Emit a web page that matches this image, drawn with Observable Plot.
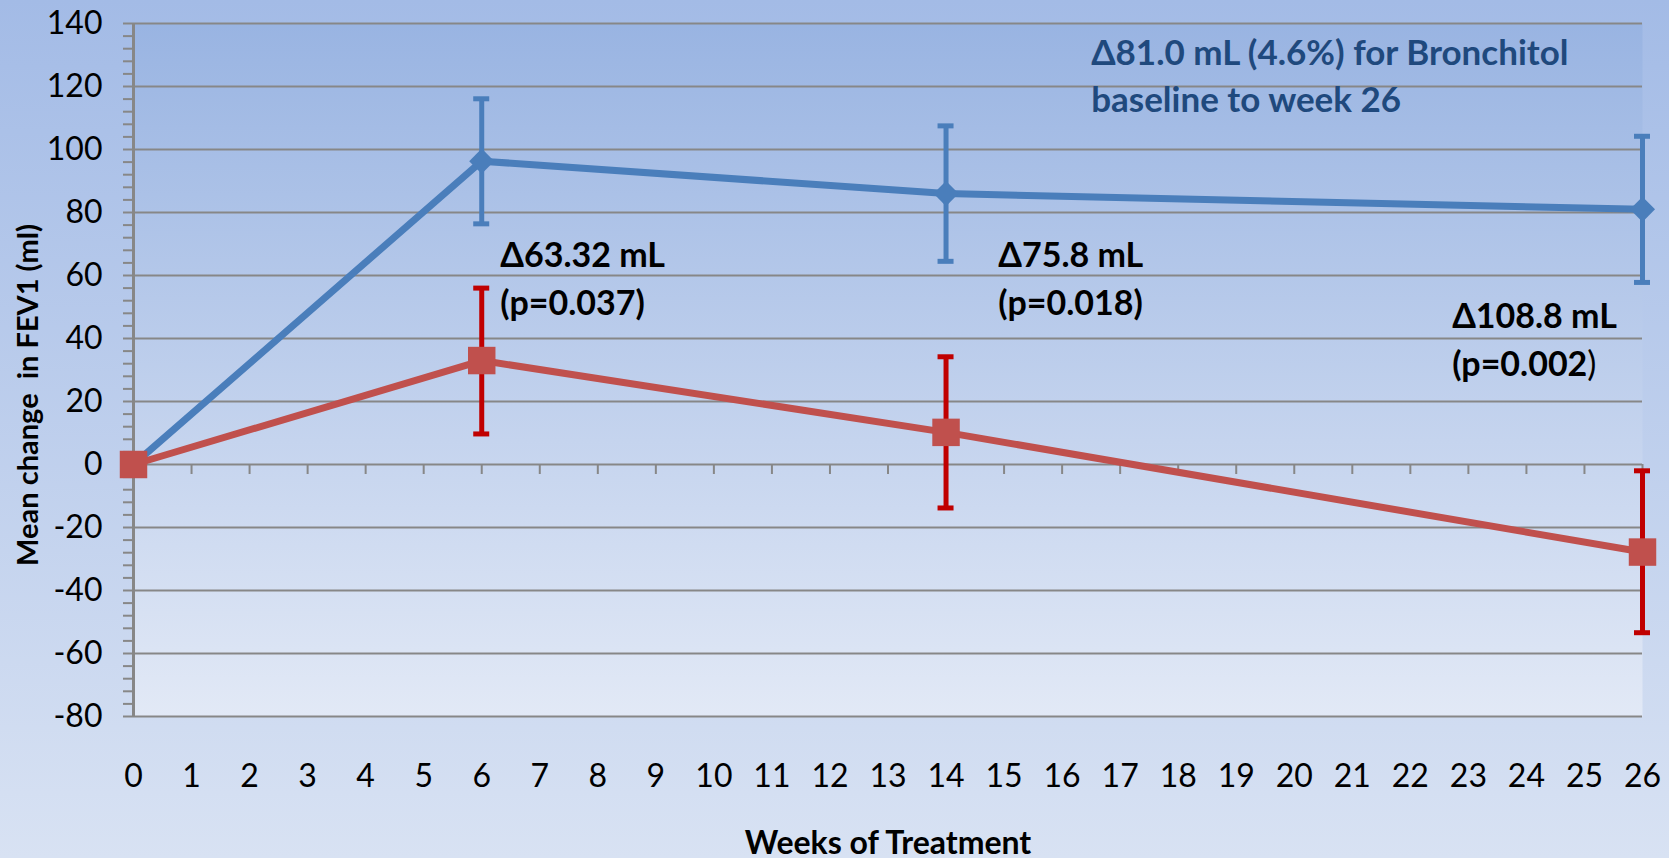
<!DOCTYPE html>
<html><head><meta charset="utf-8">
<script src="https://cdn.jsdelivr.net/npm/d3@7"></script>
<script src="https://cdn.jsdelivr.net/npm/@observablehq/plot@0.6"></script>
<style>
html,body{margin:0;padding:0;}
body{width:1669px;height:858px;overflow:hidden;background:linear-gradient(to bottom,#a3bbe6 0%,#d8e2f3 100%);}
#chart svg{display:block;}
#chart svg text{white-space:pre;}
</style></head><body><div id="chart"></div>
<script>
// ---- data ----
const weeks = [0, 6, 14, 26];
const bronchitol = [0, 96.3, 86.0, 81.0];
const bronchitolLow = [null, 76.4, 64.5, 57.8];
const bronchitolHigh = [null, 116.1, 107.5, 104.2];
const control = [0, 33.0, 10.2, -27.8];
const controlLow = [null, 9.7, -13.8, -53.4];
const controlHigh = [null, 56.0, 34.2, -2.0];
const xTicks = d3.range(0, 27);
const yTicks = d3.range(-80, 141, 20);
const yMinorTicks = d3.range(-80, 141, 4).filter(v => v % 20 !== 0);
const annotationTexts = [
  "Δ81.0 mL (4.6%) for Bronchitol\nbaseline to week 26",
  "Δ63.32 mL\n(p=0.037)",
  "Δ75.8 mL\n(p=0.018)",
  "Δ108.8 mL\n(p=0.002)"
];
const annotationWeeks = [16.5, 6.32, 14.9, 22.72];
const annotationValues = [137.3, 73.4, 73.4, 54.0];
const yLabel = "Mean change  in FEV1 (ml)";
const xLabel = "Weeks of Treatment";

// ---- tables ----
const bRows = weeks.map((w, i) => ({week: w, value: bronchitol[i], lo: bronchitolLow[i], hi: bronchitolHigh[i]}));
const cRows = weeks.map((w, i) => ({week: w, value: control[i], lo: controlLow[i], hi: controlHigh[i]}));
const bErr = bRows.filter(d => d.lo != null);
const cErr = cRows.filter(d => d.lo != null);
const notes = annotationTexts.map((t, i) => ({text: t, week: annotationWeeks[i], value: annotationValues[i]}));

const grid = "#878787";
const blue = "#4a7ebb";
const red = "#c0504d";
const redErr = "#c00000";

const errorBars = (rows, color) => [
  Plot.ruleX(rows, {x: "week", y1: "lo", y2: "hi", stroke: color, strokeWidth: 5}),
  Plot.ruleY(rows, {x1: "week", x2: "week", y: "lo", insetLeft: -8, insetRight: -8, stroke: color, strokeWidth: 5}),
  Plot.ruleY(rows, {x1: "week", x2: "week", y: "hi", insetLeft: -8, insetRight: -8, stroke: color, strokeWidth: 5})
];

const chart = Plot.plot({
  width: 1669, height: 858,
  marginLeft: 133, marginRight: 27, marginTop: 23, marginBottom: 142,
  style: {background: "transparent", fontFamily: "Lato", overflow: "visible", color: "#000"},
  x: {domain: [0, 26]},
  y: {domain: [-80, 140]},
  marks: [
    Plot.frame({fill: "url(#plotBg)", stroke: "none"}),
    Plot.ruleY(yTicks, {insetLeft: -10, stroke: grid, strokeWidth: 2}),
    Plot.ruleY(yMinorTicks, {x1: 0, x2: 0, insetLeft: -10, stroke: grid, strokeWidth: 2}),
    Plot.ruleX(xTicks, {x: d => d, y1: 0, y2: 0, insetBottom: -10, stroke: grid, strokeWidth: 2}),
    Plot.ruleX([0], {stroke: grid, strokeWidth: 3}),
    Plot.axisY({ticks: yTicks, tickSize: 0, tickPadding: 31, fontSize: 32, label: null, tickFormat: d => String(d)}),
    Plot.axisX({ticks: xTicks, tickSize: 0, tickPadding: 48, fontSize: 32, label: null, tickFormat: d => String(d)}),
    ...errorBars(bErr, blue),
    ...errorBars(cErr, redErr),
    Plot.line(bRows, {x: "week", y: "value", stroke: blue, strokeWidth: 7}),
    Plot.line(cRows, {x: "week", y: "value", stroke: red, strokeWidth: 7}),
    Plot.dot(bRows, {x: "week", y: "value", symbol: "diamond2", r: 11.3, fill: blue, stroke: "none"}),
    Plot.dot(cRows, {x: "week", y: "value", symbol: "square", r: 15.5, fill: red, stroke: "none"}),
    Plot.text(notes.slice(0, 1), {x: "week", y: "value", text: "text", textAnchor: "start", lineAnchor: "top", lineHeight: 1.343, fontSize: 35, fontWeight: "bold", fill: "#1f497d"}),
    Plot.text(notes.slice(1), {x: "week", y: "value", text: "text", textAnchor: "start", lineAnchor: "top", lineHeight: 1.4, fontSize: 34, fontWeight: "bold", fill: "#000"}),
    Plot.text([yLabel], {text: d => d, frameAnchor: "left", rotate: -90, dx: -105, dy: 25, fontSize: 29, fontWeight: "bold", textAnchor: "middle", lineAnchor: "middle", fill: "#000"}),
    Plot.text([xLabel], {text: d => d, frameAnchor: "bottom", dy: 115, fontSize: 32, fontWeight: "bold", textAnchor: "middle", lineAnchor: "top", fill: "#000"})
  ]
});

const ns = "http://www.w3.org/2000/svg";
const defs = document.createElementNS(ns, "defs");
defs.innerHTML = '<linearGradient id="plotBg" x1="0" y1="0" x2="0" y2="1"><stop offset="0" stop-color="#99b4e2"/><stop offset="1" stop-color="#e2e9f6"/></linearGradient>';
chart.insertBefore(defs, chart.firstChild);

// the closing parenthesis of the last p-value is not bold in the original
chart.querySelectorAll("tspan").forEach(t => {
  if (t.textContent === "(p=0.002)") {
    t.textContent = "(p=0.002";
    const s = document.createElementNS(ns, "tspan");
    s.setAttribute("font-weight", "normal");
    s.textContent = ")";
    t.appendChild(s);
  }
});

document.getElementById("chart").appendChild(chart);
</script>
</body></html>
